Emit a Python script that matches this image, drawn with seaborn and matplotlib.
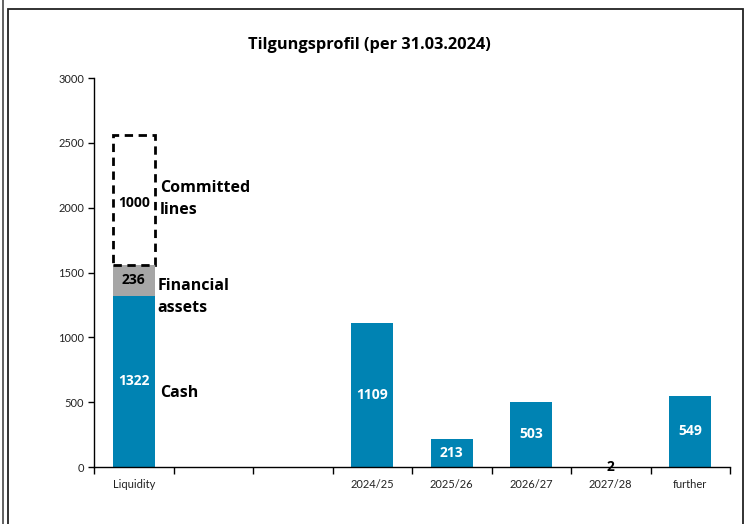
import matplotlib
matplotlib.use("Agg")
import matplotlib.pyplot as plt
from matplotlib.patches import Rectangle
from matplotlib.lines import Line2D
import numpy as np
import pandas as pd
import seaborn as sns

# Categories (two blank slots separate liquidity from the maturities)
categories = ["Liquidity", "", " ", "2024/25", "2025/26", "2026/27", "2027/28", "further"]
base_values = [1322, np.nan, np.nan, 1109, 213, 503, 2, 549]

# Liquidity stack on top of cash
financial_assets = 236
committed_lines = 1000

blue = "#0083B3"
grey = "#A6A6A6"

sns.set_theme(style="white")
plt.rcParams["font.family"] = ["Lato", "DejaVu Sans"]
bold_family = ["Open Sans", "DejaVu Sans"]

df = pd.DataFrame({"category": categories, "value": base_values})

fig = plt.figure(figsize=(7.5, 5.24), dpi=100)
ax = fig.add_axes([94 / 750, 1 - 467 / 524, (730 - 94) / 750, (467 - 78) / 524])

width = 0.53
sns.barplot(data=df, x="category", y="value", order=categories, color=blue,
            saturation=1, width=width, ax=ax, edgecolor="none")

cash = base_values[0]
ax.bar(0, financial_assets, bottom=cash, width=width, color=grey, edgecolor="none")
ax.bar(0, committed_lines, bottom=cash + financial_assets, width=width, fill=False,
       edgecolor="black", linestyle=(0, (3, 2)), linewidth=2)

# Value labels
lab_kw = dict(ha="center", va="center", fontsize=10, fontweight="bold", family=bold_family)
ax.text(0, cash / 2, f"{cash}", color="white", **lab_kw)
ax.text(0, cash + financial_assets / 2, f"{financial_assets}", color="black", **lab_kw)
ax.text(0, cash + financial_assets + committed_lines / 2 - 20, f"{committed_lines}",
        color="black", **lab_kw)
for i, v in enumerate(base_values[1:], start=1):
    if np.isnan(v):
        continue
    if v < 50:
        ax.text(i, v, f"{v}", color="black", **lab_kw)
    else:
        ax.text(i, v / 2, f"{v}", color="white", **lab_kw)

# Segment names beside the liquidity bar
name_kw = dict(ha="left", va="center", fontsize=11.5, fontweight="bold", color="black",
               linespacing=1.5, family=bold_family)
ax.text(0.33, 2070, "Committed\nlines", **name_kw)
ax.text(0.30, 1310, "Financial\nassets", **name_kw)
ax.text(0.33, 570, "Cash", **name_kw)

ax.set_ylim(0, 3000)
ax.set_xlim(-0.5, len(categories) - 0.5)
ax.set_yticks(range(0, 3001, 500))
ax.set_xticks(np.arange(-0.5, len(categories), 1), minor=True)
ax.set_xlabel("")
ax.set_ylabel("")

for side in ("top", "right"):
    ax.spines[side].set_visible(False)
for side in ("left", "bottom"):
    ax.spines[side].set_color("black")
    ax.spines[side].set_linewidth(1)

ax.tick_params(axis="y", which="major", left=True, length=4, width=1, color="black",
               labelsize=8, labelcolor="#222222", pad=3)
ax.tick_params(axis="x", which="major", bottom=False, labelsize=8, labelcolor="#222222", pad=3)
ax.tick_params(axis="x", which="minor", bottom=True, length=5, width=1, color="black")

fig.text(0.493, 1 - 45 / 524, "Tilgungsprofil (per 31.03.2024)", ha="center", va="center",
         fontsize=11.8, fontweight="bold", color="black", family=bold_family)

# Outer frame
fig.add_artist(Rectangle((7.5 / 750, -0.05), (743 - 7.5) / 750, 1.05 - 8.5 / 524,
                         transform=fig.transFigure, fill=False, edgecolor="#222222",
                         linewidth=1.3))
fig.add_artist(Line2D([2.5 / 750, 2.5 / 750], [0, 1], transform=fig.transFigure,
                      color="#555555", linewidth=1.3))

fig.savefig("out.png", dpi=100)
